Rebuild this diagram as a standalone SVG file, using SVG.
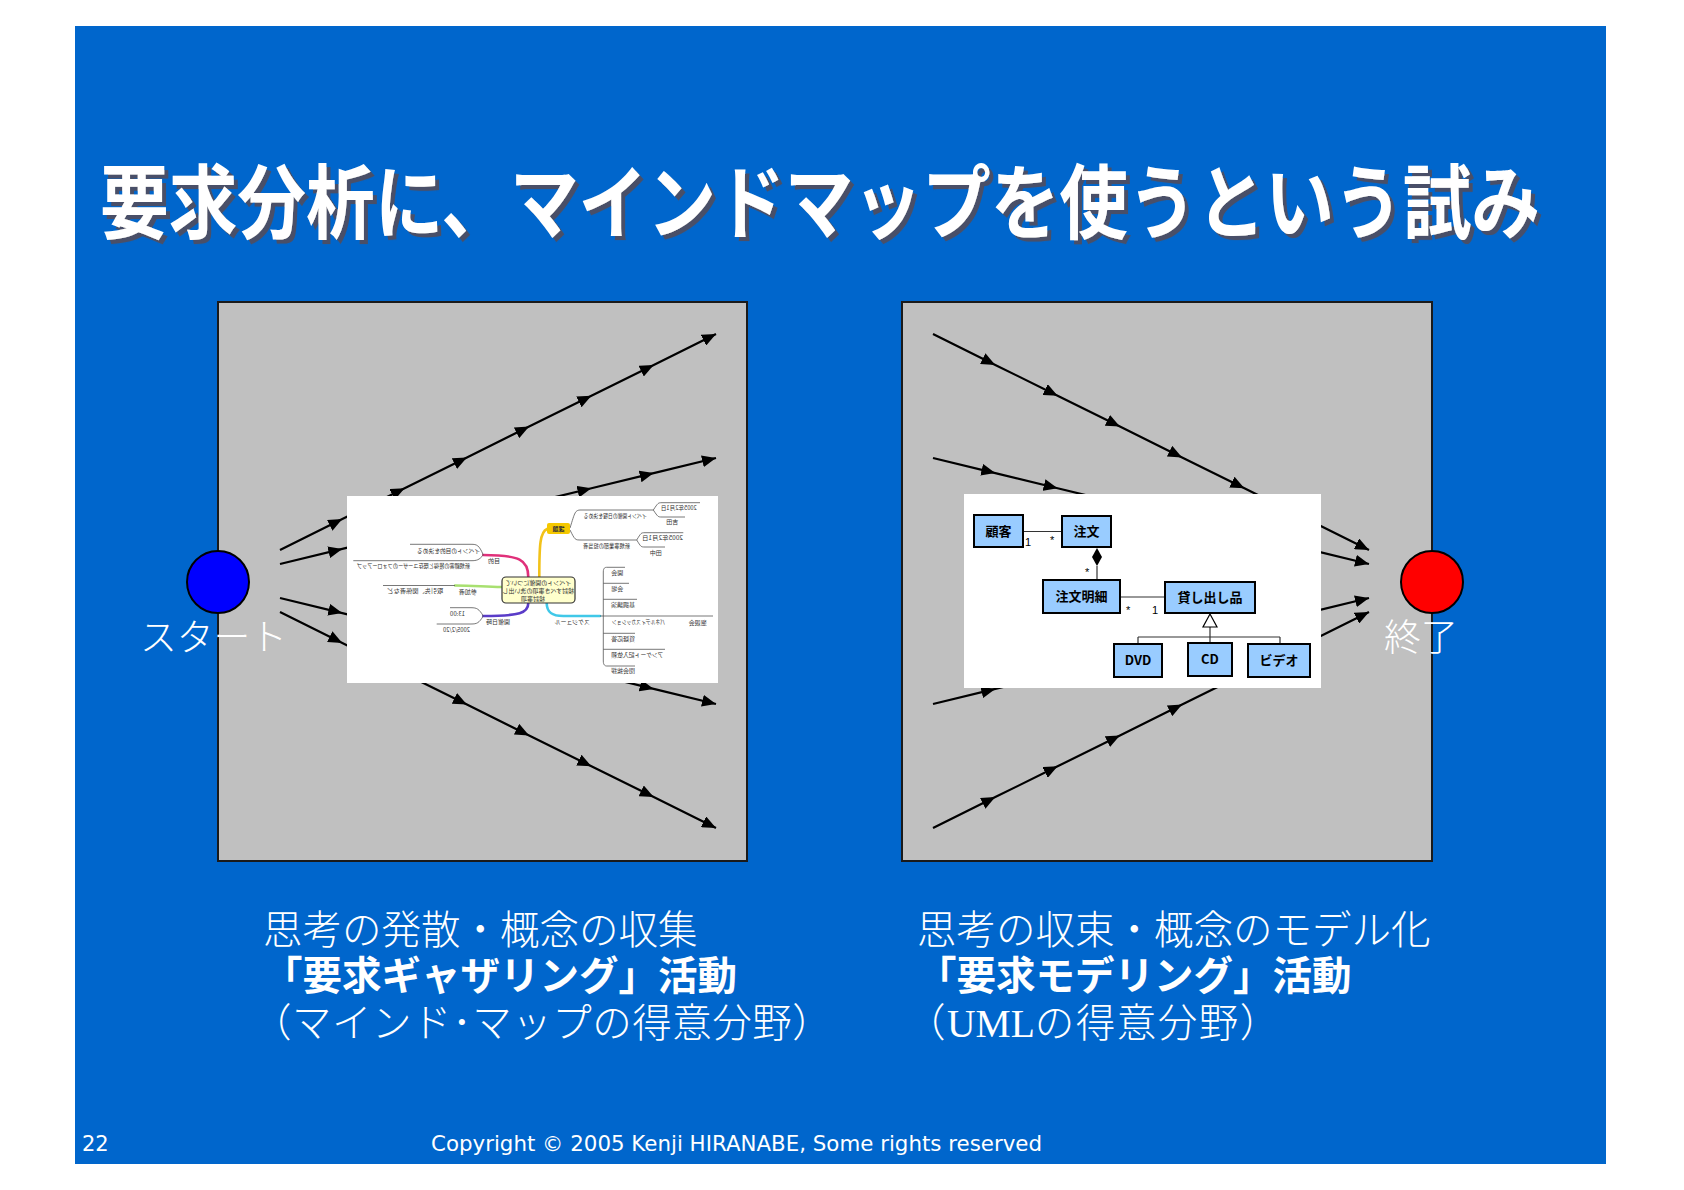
<svg xmlns="http://www.w3.org/2000/svg" width="1684" height="1190" viewBox="0 0 1684 1190">
<defs>
<style>
.panel{fill:#C0C0C0;stroke:#1a1a1a;stroke-width:2}
.flow{fill:none;stroke:#000;stroke-width:2.2;marker-mid:url(#ah);marker-end:url(#ah)}
.lbl{font-family:"Noto Sans CJK JP",sans-serif;fill:#fff}
.cap{font-family:"Liberation Serif","Noto Sans CJK JP",serif;fill:#fff;font-size:39.5px;font-weight:300}
.mm{font-family:"Noto Sans CJK JP",sans-serif;fill:#333;font-size:6px}
.mg{fill:none;stroke:#555;stroke-width:0.8}
.br{fill:none;stroke-width:2.6;stroke-linecap:round}
.cls{fill:#99CCFF;stroke:#000;stroke-width:2}
.ct{font-family:"Noto Sans CJK JP",sans-serif;font-size:13px;font-weight:700;fill:#000;text-anchor:middle}
.ln{fill:none;stroke:#333;stroke-width:1.2}
.mult{font-family:"Liberation Sans",sans-serif;font-size:11px;fill:#000}
</style>
<marker id="ah" viewBox="0 0 14 12" refX="14" refY="6" markerWidth="14" markerHeight="12" markerUnits="userSpaceOnUse" orient="auto">
<path d="M0,0 L14,6 L0,12 z" fill="#000"/>
</marker>
<filter id="ts" x="-5%" y="-20%" width="110%" height="150%">
<feDropShadow dx="4" dy="3.5" stdDeviation="0.6" flood-color="#4a5068" flood-opacity="1"/>
</filter>
</defs>

<rect x="0" y="0" width="1684" height="1190" fill="#fff"/>
<rect x="75" y="26" width="1531" height="1138" fill="#0066CC"/>

<g id="title">
<text transform="translate(100,232) scale(1,1.17)" x="0" y="0" font-family="'Noto Sans CJK JP',sans-serif" font-weight="700" font-size="69" fill="#fff" textLength="1440" lengthAdjust="spacingAndGlyphs" filter="url(#ts)">要求分析に、マインドマップを使うという試み</text>
</g>

<g id="panel-left"><rect class="panel" x="218" y="302" width="529" height="559"/></g>
<g id="panel-right"><rect class="panel" x="902" y="302" width="530" height="559"/></g>

<g id="connectors">
<polyline class="flow" points="280,550 342.3,519.1 404.6,488.3 466.9,457.4 529.1,426.6 591.4,395.7 653.7,364.9 716,334"/>
<polyline class="flow" points="280,564 342.3,548.9 404.6,533.7 466.9,518.6 529.1,503.4 591.4,488.3 653.7,473.1 716,458"/>
<polyline class="flow" points="280,598 342.3,613.1 404.6,628.3 466.9,643.4 529.1,658.6 591.4,673.7 653.7,688.9 716,704"/>
<polyline class="flow" points="280,612 342.3,642.9 404.6,673.7 466.9,704.6 529.1,735.4 591.4,766.3 653.7,797.1 716,828"/>
<polyline class="flow" points="933,334 995.3,364.9 1057.6,395.7 1119.9,426.6 1182.1,457.4 1244.4,488.3 1306.7,519.1 1369,550"/>
<polyline class="flow" points="933,458 995.3,473.1 1057.6,488.3 1119.9,503.4 1182.1,518.6 1244.4,533.7 1306.7,548.9 1369,564"/>
<polyline class="flow" points="933,704 995.3,688.9 1057.6,673.7 1119.9,658.6 1182.1,643.4 1244.4,628.3 1306.7,613.1 1369,598"/>
<polyline class="flow" points="933,828 995.3,797.1 1057.6,766.3 1119.9,735.4 1182.1,704.6 1244.4,673.7 1306.7,642.9 1369,612"/>
</g>

<g id="mindmap">
<rect x="347" y="496" width="371" height="187" fill="#fff"/>
<g transform="matrix(-1,0,0,1,1065,0)">
<path class="br" stroke="#F2C21A" d="M525.7,577 C525.7,545 525,532 518,529"/>
<path class="br" stroke="#E0307A" d="M536.7,577 C536.7,560 545,555 581.7,555"/>
<path class="br" stroke="#A8E070" d="M563.3,587 C580,587 590,585.5 610,585.5"/>
<path class="br" stroke="#5A3CC8" d="M536.7,603 C536.7,613 545,616 581.7,616"/>
<path class="br" stroke="#40C8E8" d="M518.3,603 C518.3,613 512,616 501.7,616 L465,616"/>
<path class="mg" d="M495,528 C490,512 490,510 484,510 L411.7,510"/>
<path class="mg" d="M411.7,510 C407,503 407,502.7 403,502.7 L365,502.7 M411.7,510 C407,517 407,517 403,517 L380,517"/>
<path class="mg" d="M495,530 C490,540 490,540 484,540 L428.3,540"/>
<path class="mg" d="M428.3,540 C424,533 424,532.7 420,532.7 L381.7,532.7 M428.3,540 C424,547 424,547 420,547 L400,547"/>
<path class="mg" d="M581.7,555 C586,545 588,544.3 594,544.3 L655,544.3 M581.7,555 C586,560 588,560.7 594,560.7 L711.7,560.7"/>
<path class="mg" d="M610,585.5 L682,585.5"/>
<path class="mg" d="M581.7,616 C586,609 588,607.7 594,607.7 L615,607.7 M581.7,616 C586,623 588,624 594,624 L628.3,624"/>
<path class="mg" d="M465,616 L352,616"/>
<path class="mg" d="M461.7,572 L461.7,661 M461.7,572 C461.7,568 460,567.3 458.3,567.3 L440,567.3 M461.7,583.3 L436,583.3 M461.7,599.3 L428,599.3 M461.7,633.3 L430,633.3 M461.7,649.3 L400,649.3 M461.7,661 C461.7,665 460,666 458.3,666 L430,666"/>
<rect x="490" y="577" width="73" height="26" rx="4" fill="#FFFFCC" stroke="#333" stroke-width="1.2"/>
<text class="mm" x="526.7" y="584.5" text-anchor="middle">イベントの開催について</text>
<text class="mm" x="526.7" y="592.5" text-anchor="middle">検討すべき事項の洗い出し</text>
<text class="mm" x="532" y="600.5" text-anchor="middle">検討事項</text>
<rect x="495" y="523" width="23" height="11" rx="2" fill="#F5C800"/>
<text class="mm" x="506.5" y="531" text-anchor="middle" font-weight="700">課題</text>
<text class="mm" x="418.3" y="518" textLength="63" lengthAdjust="spacingAndGlyphs">イベント開催の日程を決める</text>
<text class="mm" x="368.3" y="510" textLength="36" lengthAdjust="spacingAndGlyphs">2005年2月1日</text>
<text class="mm" x="386.7" y="524">吉田</text>
<text class="mm" x="435" y="548" textLength="47" lengthAdjust="spacingAndGlyphs">新規事業部の担当者</text>
<text class="mm" x="382" y="540" textLength="41" lengthAdjust="spacingAndGlyphs">2005年2月1日</text>
<text class="mm" x="403.3" y="555">田中</text>
<text class="mm" x="565" y="563">目的</text>
<text class="mm" x="585" y="553" textLength="63" lengthAdjust="spacingAndGlyphs">イベントの目的を決める</text>
<text class="mm" x="595" y="568" textLength="113" lengthAdjust="spacingAndGlyphs">新規顧客の獲得と既存ユーザーのフォローアップ</text>
<text class="mm" x="588.3" y="594">参加者</text>
<text class="mm" x="621.7" y="593" textLength="56" lengthAdjust="spacingAndGlyphs">取引先、関係者など</text>
<text class="mm" x="555" y="624">開催日時</text>
<text class="mm" x="600" y="616">13:00</text>
<text class="mm" x="595" y="632" textLength="27" lengthAdjust="spacingAndGlyphs">2005/2/20</text>
<text class="mm" x="475" y="624">スケジュール</text>
<text class="mm" x="441.7" y="575">開会</text>
<text class="mm" x="441.7" y="591">会場</text>
<text class="mm" x="430" y="607">基調講演</text>
<text class="mm" x="400" y="624" textLength="53" lengthAdjust="spacingAndGlyphs">パネルディスカッション</text>
<text class="mm" x="358.3" y="625">懇親会</text>
<text class="mm" x="430" y="641">質疑応答</text>
<text class="mm" x="401.7" y="657" textLength="52" lengthAdjust="spacingAndGlyphs">アンケート記入依頼</text>
<text class="mm" x="430" y="673">閉会挨拶</text>
</g>
</g>

<g id="uml">
<rect x="964" y="494" width="357" height="194" fill="#fff"/>
<line class="ln" x1="1023" y1="531.5" x2="1062" y2="531.5"/>
<line class="ln" x1="1097" y1="566" x2="1097" y2="580"/>
<line class="ln" x1="1120" y1="597" x2="1165" y2="597"/>
<path class="ln" d="M1210,627 L1210,637 M1138,637 L1280,637 M1138,637 L1138,644 M1210,637 L1210,643 M1280,637 L1280,644"/>
<path d="M1097,548 L1102,557 L1097,566 L1092,557 Z" fill="#000"/>
<path d="M1210,614 L1217,627 L1203,627 Z" fill="#fff" stroke="#000" stroke-width="1.2"/>
<g id="c-kokyaku"><rect class="cls" x="974" y="515" width="49" height="32"/><text class="ct" x="998.5" y="536">顧客</text></g>
<g id="c-chumon"><rect class="cls" x="1062" y="516" width="49" height="31"/><text class="ct" x="1086.5" y="536">注文</text></g>
<g id="c-meisai"><rect class="cls" x="1043" y="580" width="77" height="33"/><text class="ct" x="1081.5" y="601">注文明細</text></g>
<g id="c-kashidashi"><rect class="cls" x="1165" y="582" width="90" height="31"/><text class="ct" x="1210" y="602">貸し出し品</text></g>
<g id="c-dvd"><rect class="cls" x="1114" y="644" width="48" height="33"/><text class="ct" x="1138" y="665" font-family="'Liberation Sans',sans-serif" font-size="12">DVD</text></g>
<g id="c-cd"><rect class="cls" x="1188" y="643" width="44" height="33"/><text class="ct" x="1210" y="664" font-family="'Liberation Sans',sans-serif" font-size="12">CD</text></g>
<g id="c-video"><rect class="cls" x="1248" y="644" width="62" height="33"/><text class="ct" x="1279" y="665">ビデオ</text></g>
<text class="mult" x="1025" y="546">1</text>
<text class="mult" x="1050" y="544">*</text>
<text class="mult" x="1085" y="576">*</text>
<text class="mult" x="1126" y="614">*</text>
<text class="mult" x="1152" y="614">1</text>
</g>

<g id="start">
<circle cx="218" cy="582" r="31" fill="#0000FF" stroke="#000" stroke-width="2"/>
<text class="lbl" x="140" y="651" font-size="37" font-weight="300" textLength="147" lengthAdjust="spacingAndGlyphs">スタート</text>
</g>
<g id="end">
<circle cx="1432" cy="582" r="31" fill="#FF0000" stroke="#000" stroke-width="2"/>
<text class="lbl" x="1384" y="651" font-size="37" font-weight="300">終了</text>
</g>

<g id="caption-left">
<text class="cap"><tspan x="263" y="944">思考の発散・概念の収集</tspan><tspan x="263" y="990" font-weight="700">「要求ギャザリング」活動</tspan><tspan x="252" y="1037" letter-spacing="0.5">（マインド･マップの得意分野）</tspan></text>
</g>
<g id="caption-right">
<text class="cap"><tspan x="917" y="944">思考の収束・概念のモデル化</tspan><tspan x="917" y="990" font-weight="700">「要求モデリング」活動</tspan><tspan x="906" y="1037" letter-spacing="1.5">（</tspan><tspan letter-spacing="0">UML</tspan><tspan letter-spacing="1.5">の得意分野）</tspan></text>
</g>

<g id="footer">
<text x="82" y="1151" font-family="'DejaVu Sans',sans-serif" font-size="21" fill="#fff">22</text>
<text x="431" y="1151" font-family="'DejaVu Sans',sans-serif" font-size="21" fill="#fff" textLength="611" lengthAdjust="spacingAndGlyphs">Copyright © 2005 Kenji HIRANABE,  Some rights reserved</text>
</g>
</svg>
